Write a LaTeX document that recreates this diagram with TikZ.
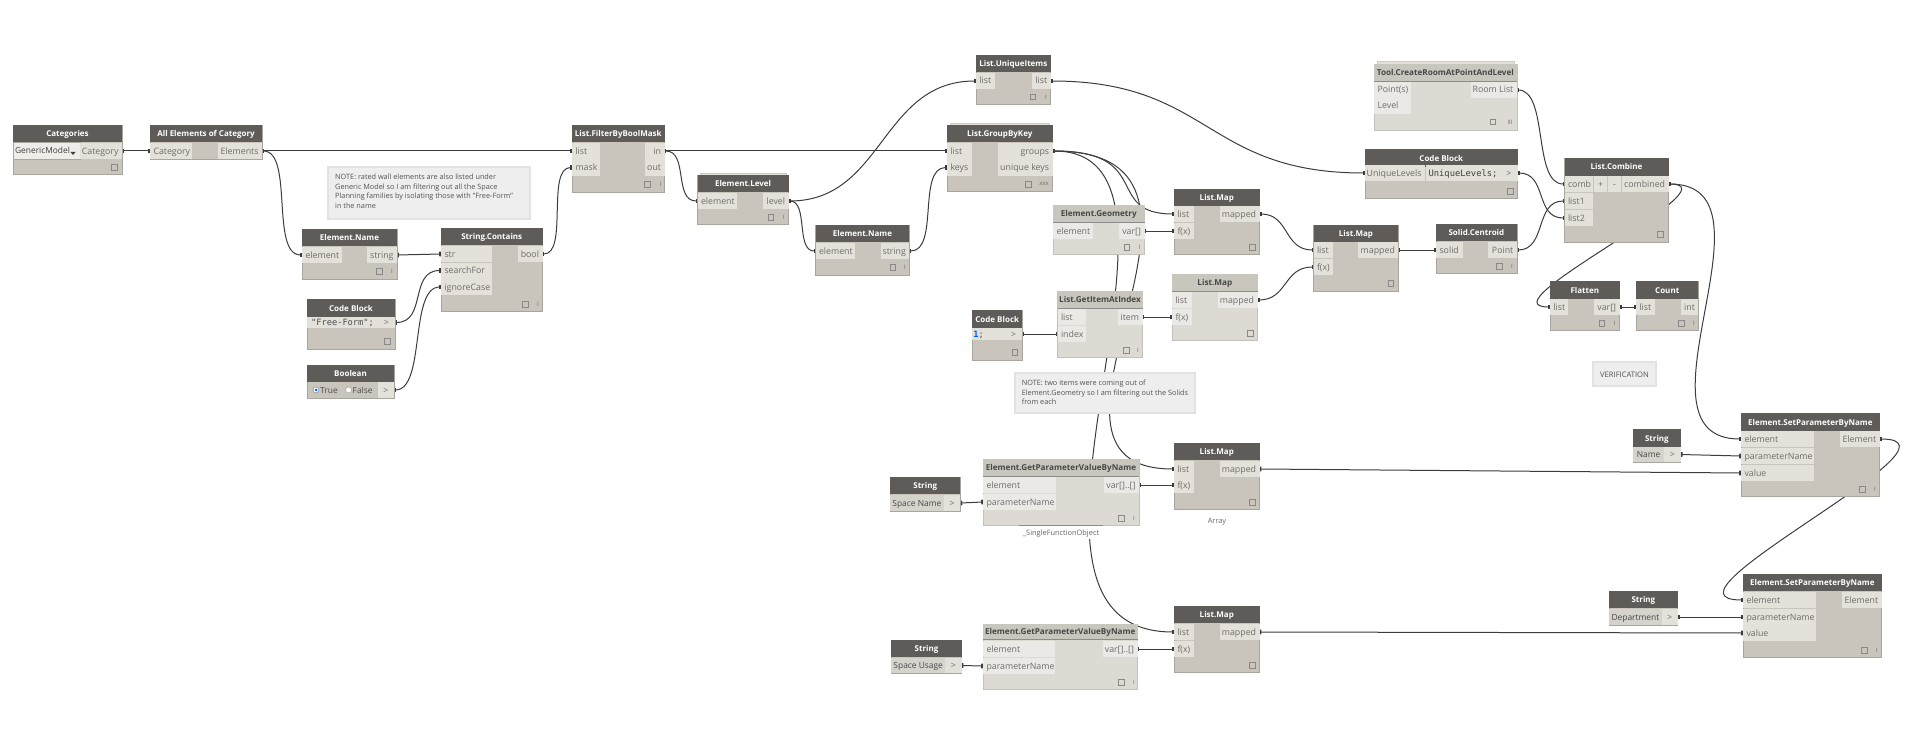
\documentclass[tikz,border=0pt]{standalone}
\usepackage{fontspec}
\setmainfont{Open Sans}
\newfontfamily\monof{DejaVu Sans Mono}
\usetikzlibrary{arrows.meta}
\definecolor{ttl}{HTML}{5E5B58}
\definecolor{bdy}{HTML}{C9C5BD}
\definecolor{bnd}{HTML}{E4E1DA}
\definecolor{fbdy}{HTML}{DCDAD3}
\definecolor{fttl}{HTML}{C9C6BE}
\definecolor{fbnd}{HTML}{EBE9E5}
\definecolor{edg}{HTML}{A9A69F}
\definecolor{lbl}{HTML}{6E6C69}
\definecolor{wc}{HTML}{3C3C3C}
\definecolor{notef}{HTML}{EEEEEE}
\definecolor{noteb}{HTML}{E2E2E2}
\pgfdeclarelayer{wires}
\pgfsetlayers{wires,main}
\tikzset{
  flat/.style={anchor=north west,inner sep=0pt,outer sep=0pt},
  live/.style={fill=bdy,draw=edg,line width=.6pt},
  froz/.style={fill=fbdy,draw=edg!70,line width=.6pt},
  livet/.style={fill=ttl,text=white,font=\fontsize{8}{10}\selectfont\bfseries},
  frozt/.style={fill=fttl,text=black!72,font=\fontsize{8.15}{10}\selectfont\bfseries},
  band/.style={fill=bnd,text=lbl,font=\fontsize{8.8}{10}\selectfont},
  fband/.style={fill=fbnd,text=lbl,font=\fontsize{8.8}{10}\selectfont},
  strband/.style={fill=bnd!94!black,text=black!72,font=\fontsize{8.4}{10}\selectfont},
  wire/.style={draw=wc,line width=1pt,{Rectangle[length=1.8pt,width=4.6pt]}-{Rectangle[length=1.8pt,width=4.6pt]}},
  notetxt/.style={anchor=north west,inner sep=0pt,align=left,text=black!68,font=\fontsize{7.3}{9.6}\selectfont},
  tiny/.style={draw=lbl!80,line width=.5pt,minimum size=5.5pt,inner sep=0pt},
  tick/.style={inner sep=0pt,text=lbl,font=\fontsize{6}{6}\selectfont}
}
\newcounter{nn}
% generic rectangle: name,x1,y1,x2,y2,style,text
\newcommand{\bx}[7]{%
  \pgfmathsetmacro\bw{#4-(#2)}\pgfmathsetmacro\bh{#5-(#3)}%
  \node[flat,minimum width=\bw pt,minimum height=\bh pt,#6] (#1) at (#2,#3) {\raisebox{-3pt}[4pt][4pt]{#7}};}
% block: name,x1,y1,x2,y2,titleBottom,title
\newcommand{\livenode}[7]{\bx{#1}{#2}{#3}{#4}{#5}{live}{}\bx{#1t}{#2}{#3}{#4}{#6}{livet}{#7}}
\newcommand{\frznode}[7]{\bx{#1}{#2}{#3}{#4}{#5}{froz}{}\bx{#1t}{#2}{#3}{#4}{#6}{frozt}{#7}%
  \draw[draw=black!45,line width=.6pt] (#1t.south west) -- (#1t.south east);}
% left port: name,x1,x2,y,text ; right port likewise
\newcommand{\ipt}[6][band]{\pgfmathsetmacro\pw{#4-(#3)-3.5}\bx{#2}{#3}{#5-8}{#4}{#5+8}{#1}{\hspace{3.5pt}\makebox[\pw pt][l]{#6}}}
\newcommand{\opt}[6][band]{\pgfmathsetmacro\pw{#4-(#3)-3.5}\bx{#2}{#3}{#5-8}{#4}{#5+8}{#1}{\makebox[\pw pt][r]{#6}\hspace{3.5pt}}}
\newcommand{\sq}[2]{\stepcounter{nn}\node[tiny] (sq\thenn) at (#1,#2) {};}
\newcommand{\lc}[3][I]{\stepcounter{nn}\node[tick] (lc\thenn) at (#2,#3) {#1};}
\newcommand{\wire}[4]{\draw[wire] (#1.east) .. controls +(#3,0) and +(-#4,0) .. (#2.west);}
\newcommand{\strw}[2]{\draw[wire] (#1.east) -- (#2.west);}
\begin{document}
\begin{tikzpicture}[x=1pt,y=-1pt]
\useasboundingbox (0,0) rectangle (1909,741);

% Categories
\livenode{cat}{13}{125}{122}{174}{142}{Categories}
\bx{catdd}{13}{142}{80}{159}{fill=bnd!60!white,draw=edg,line width=.5pt,text=black!75,font=\fontsize{8.4}{10}\selectfont}{\hspace{-8pt}GenericModel}
\fill[black!75] (70.5,152) -- (75.5,152) -- (73,155) -- cycle;
\opt{catO}{80}{122}{151}{Category}
\sq{114}{167}
% All Elements
\livenode{all}{150}{125}{262}{159}{142}{All Elements of Category}
\ipt{allI}{150}{192}{151}{Category}
\opt{allO}{218}{262}{151}{Elements}
% FilterByBoolMask
\livenode{fb}{572}{125}{664.5}{192}{142}{List.FilterByBoolMask}
\ipt{fbL}{572}{600}{151}{list}
\ipt{fbM}{572}{600}{167.5}{mask}
\opt{fbIn}{645}{664.5}{151}{in}
\opt{fbOut}{645}{664.5}{167.5}{out}
\sq{647}{184}\lc{660.4}{184}
% Note 1
\bx{note1}{328}{167}{530}{219}{fill=notef,draw=noteb,line width=1.5pt}{}
\node[notetxt] (note1t) at (335,174) {NOTE: rated wall elements are also listed under\\Generic Model so I am filtering out all the Space\\Planning families by isolating those with "Free-Form"\\in the name};
% Element.Name 1
\livenode{en1}{302}{229}{397}{279}{246}{Element.Name}
\ipt{en1I}{302}{342}{255}{element}
\opt{en1O}{367}{397}{255}{string}
\sq{379}{271}\lc{392}{271}
% String.Contains
\livenode{sc}{441}{228}{542.5}{311}{245}{String.Contains}
\ipt{scS}{441}{492}{254}{str}
\ipt{scF}{441}{492}{270.5}{searchFor}
\ipt{scC}{441}{492}{287}{ignoreCase}
\opt{scO}{518}{542.5}{254}{bool}
\sq{525}{304}\lc{538}{304}
% Code Block 1
\livenode{cb1}{307}{299}{395}{349}{317}{Code Block}
\bx{cb1c}{307}{317}{378}{328}{fill=bnd,text=black!70,font=\monof\fontsize{8.7}{10}\selectfont}{"Free-Form";}
\bx{cb1O}{378}{317}{395}{328}{band}{>}
\sq{387}{341}
% Boolean
\livenode{bo}{307}{365}{394}{398}{382}{Boolean}
\bx{boO}{378}{382}{394}{398}{band}{>}
\node[circle,draw=black!55,fill=white,minimum size=6pt,inner sep=0pt] (rt) at (316,390) {};
\node[circle,fill=blue!60!cyan,minimum size=3pt,inner sep=0pt] (rti) at (316,390) {};
\node[anchor=west,inner sep=0pt,text=black!70,font=\fontsize{8.4}{10}\selectfont] (rtt) at (320,390.5) {True};
\node[circle,draw=black!40,fill=white,minimum size=6pt,inner sep=0pt] (rf) at (348.6,390) {};
\node[anchor=west,inner sep=0pt,text=black!70,font=\fontsize{8.4}{10}\selectfont] (rft) at (352.5,390.5) {False};

% Element.Level
\bx{elS}{700}{173}{786}{176}{fill=bnd,draw=edg!60,line width=.4pt}{}
\livenode{el}{697.5}{175}{788.6}{224}{192}{Element.Level}
\ipt{elI}{697.5}{737}{201}{element}
\opt{elO}{763}{788.6}{201}{level}
\sq{770.6}{217}\lc{783.6}{217}
% Element.Name 2
\livenode{en2}{815.5}{225}{909.4}{275}{242}{Element.Name}
\ipt{en2I}{815.5}{855}{251}{element}
\opt{en2O}{881}{909.4}{251}{string}
\sq{892.6}{267}\lc{905}{267}
% List.UniqueItems
\livenode{ui}{976}{55}{1050.6}{104}{72}{List.UniqueItems}
\ipt{uiI}{976}{995}{81}{list}
\opt{uiO}{1032}{1050.6}{81}{list}
\sq{1032.6}{97}\lc{1046}{97}
% List.GroupByKey
\bx{gkS}{950}{123}{1049}{126}{fill=bnd,draw=edg!60,line width=.4pt}{}
\livenode{gk}{947}{125}{1052.6}{191}{142}{List.GroupByKey}
\ipt{gkL}{947}{972}{151}{list}
\ipt{gkK}{947}{972}{167.5}{keys}
\opt{gkG}{998}{1052.6}{151}{groups}
\opt{gkU}{998}{1052.6}{167.5}{unique keys}
\sq{1028}{184}\lc[xxx]{1044}{184}
% Element.Geometry
\frznode{eg}{1053}{205}{1144.5}{254}{222}{Element.Geometry}
\ipt[fband]{egI}{1053}{1093}{231}{element}
\opt[fband]{egO}{1119}{1144.5}{231}{var[]}
\sq{1126.5}{247}\lc{1139.6}{247}
% List.GetItemAtIndex
\frznode{gi}{1057.5}{291}{1142.5}{357}{308}{List.GetItemAtIndex}
\ipt[fband]{giL}{1057.5}{1086}{317}{list}
\ipt[fband]{giX}{1057.5}{1086}{334}{index}
\opt[fband]{giO}{1118}{1142.5}{317}{item}
\sq{1126}{350}\lc{1138}{350}
% Code Block 2
\livenode{cb2}{972}{310}{1022.4}{360}{328}{Code Block}
\bx{cb2c}{972}{328}{1005}{340}{fill=bnd,text=blue!65!cyan,font=\monof\fontsize{8.7}{10}\selectfont}{\hspace{-20pt}\textbf{1}\textcolor{black!70}{;}}
\bx{cb2O}{1005}{328}{1022.4}{340}{band}{>}
\sq{1014.7}{352}
% List.Map top
\livenode{m1}{1174}{189}{1259.6}{254}{206}{List.Map}
\ipt{m1L}{1174}{1194}{214}{list}
\ipt{m1F}{1174}{1194}{231}{f(x)}
\opt{m1O}{1219.6}{1259.6}{214}{mapped}
\sq{1252}{247}
% List.Map frozen
\frznode{m2}{1172}{274}{1257.6}{340}{291}{List.Map}
\ipt[fband]{m2L}{1172}{1192}{300}{list}
\ipt[fband]{m2F}{1172}{1192}{317}{f(x)}
\opt[fband]{m2O}{1217.6}{1257.6}{300}{mapped}
\sq{1250}{333}
% List.Map 3
\livenode{m3}{1313.5}{225}{1398.4}{291}{242}{List.Map}
\ipt{m3L}{1313.5}{1333}{250}{list}
\ipt{m3F}{1313.5}{1333}{267}{f(x)}
\opt{m3O}{1358}{1398.4}{250}{mapped}
\sq{1390.6}{283}
% Solid.Centroid
\livenode{sd}{1436}{224}{1516.8}{273}{241}{Solid.Centroid}
\ipt{sdI}{1436}{1463}{250}{solid}
\opt{sdO}{1488}{1516.8}{250}{Point}
\sq{1499}{266}\lc{1512}{266}
% Tool
\bx{tlS}{1377}{61}{1514}{65}{fill=bnd,draw=edg!60,line width=.4pt}{}
\frznode{tl}{1374}{64}{1516.8}{130}{81}{Tool.CreateRoomAtPointAndLevel}
\ipt[fband]{tlP}{1374}{1411}{90}{Point(s)}
\ipt[fband]{tlV}{1374}{1411}{106}{Level}
\opt[fband]{tlO}{1471}{1516.8}{90}{Room List}
\sq{1492.7}{122}\lc[III]{1510}{122}
% Code Block 3
\livenode{cb3}{1365}{149}{1517.6}{198}{167}{Code Block}
\opt{cb3I}{1365}{1425}{173}{UniqueLevels}
\bx{cb3c}{1426}{165}{1500}{181}{fill=bnd,text=black!75,font=\monof\fontsize{8.8}{10}\selectfont}{UniqueLevels;}
\bx{cb3O}{1500}{165}{1517.6}{181}{band}{>}
\sq{1510}{191}
% List.Combine
\livenode{lc}{1564.5}{158}{1668.6}{242}{176}{List.Combine}
\ipt{lcC}{1564.5}{1593}{184}{comb}
\ipt{lc1}{1564.5}{1593}{201}{list1}
\ipt{lc2}{1564.5}{1593}{218}{list2}
\bx{lcP}{1594}{176}{1607.4}{192}{band}{+}
\bx{lcM}{1608}{176}{1621}{192}{band}{-}
\opt{lcO}{1622}{1668.6}{184}{combined}
\sq{1660.4}{234}
% Flatten
\livenode{fl}{1550}{281}{1619.6}{330}{299}{Flatten}
\ipt{flI}{1550}{1568}{307}{list}
\opt{flO}{1594}{1619.6}{307}{var[]}
\sq{1601.7}{323}\lc{1614.7}{323}
% Count
\livenode{ct}{1636}{281}{1698.4}{330}{299}{Count}
\ipt{ctI}{1636}{1655}{307}{list}
\opt{ctO}{1681}{1698.4}{307}{int}
\sq{1681}{323}\lc{1694}{323}
% Verification
\bx{ver}{1593}{362}{1656}{386}{fill=notef,draw=noteb,line width=1.5pt,text=black!68,font=\fontsize{7.6}{9}\selectfont}{VERIFICATION}
% Note 2
\bx{note2}{1015}{373}{1195}{413}{fill=notef,draw=noteb,line width=1.5pt}{}
\node[notetxt] (note2t) at (1021.6,380) {NOTE: two items were coming out of\\Element.Geometry so I am filtering out the Solids\\from each};
% GetParameter 1
\frznode{gp1}{983}{459}{1139}{525}{476}{Element.GetParameterValueByName}
\ipt[fband]{gp1E}{983}{1056}{485}{element}
\ipt[fband]{gp1N}{983}{1056}{502}{parameterName}
\opt[fband]{gp1O}{1104}{1139}{485}{var[]..[]}
\sq{1121}{518}\lc{1134}{518}
\bx{sfo}{1019}{525}{1103}{539}{fill=white,text=black!60,font=\fontsize{7.4}{9}\selectfont}{\_SingleFunctionObject}
\draw[draw=black!45,line width=.5pt] (sfo.north west) -- (sfo.north east);
% String Space Name
\livenode{s1}{890}{477}{960.4}{511}{494}{String}
\bx{s1v}{890}{495}{943.7}{511}{strband}{Space Name}
\bx{s1O}{943.7}{495}{960.4}{511}{band}{>}
% List.Map 4a
\livenode{m4}{1174}{443}{1259.6}{509}{460}{List.Map}
\ipt{m4L}{1174}{1194}{469}{list}
\ipt{m4F}{1174}{1194}{485}{f(x)}
\opt{m4O}{1219.6}{1259.6}{469}{mapped}
\sq{1252}{502}
\node[inner sep=0pt,text=black!60,font=\fontsize{7.4}{9}\selectfont] (arr) at (1217,521.5) {Array};
% List.Map 4b
\livenode{m5}{1174}{606}{1259.6}{672}{623}{List.Map}
\ipt{m5L}{1174}{1194}{632}{list}
\ipt{m5F}{1174}{1194}{649}{f(x)}
\opt{m5O}{1219.6}{1259.6}{632}{mapped}
\sq{1252}{665}
% GetParameter 2
\frznode{gp2}{983}{624}{1137.5}{689}{639}{Element.GetParameterValueByName}
\ipt[fband]{gp2E}{983}{1055}{649}{element}
\ipt[fband]{gp2N}{983}{1055}{666}{parameterName}
\opt[fband]{gp2O}{1103}{1137.5}{649}{var[]..[]}
\sq{1121}{682}\lc{1134}{682}
% String Space Usage
\livenode{s2}{891.4}{640}{961.6}{673}{657}{String}
\bx{s2v}{891.4}{658}{945}{673}{strband}{Space Usage}
\bx{s2O}{945}{658}{961.6}{673}{band}{>}
% SetParameter 1
\livenode{sp1}{1741}{413}{1879.7}{496}{431}{Element.SetParameterByName}
\ipt{sp1E}{1741}{1814}{439}{element}
\ipt{sp1N}{1741}{1814}{456}{parameterName}
\ipt{sp1V}{1741}{1814}{473}{value}
\opt{sp1O}{1840}{1879.7}{439}{Element}
\sq{1862}{489}\lc{1875}{489}
% String Name
\livenode{s3}{1633}{429}{1680.7}{462}{447}{String}
\bx{s3v}{1633}{447}{1664}{462}{strband}{Name}
\bx{s3O}{1664}{447}{1680.7}{462}{band}{>}
% SetParameter 2
\livenode{sp2}{1743}{574}{1881.7}{657}{591}{Element.SetParameterByName}
\ipt{sp2E}{1743}{1816}{600}{element}
\ipt{sp2N}{1743}{1816}{617}{parameterName}
\ipt{sp2V}{1743}{1816}{633}{value}
\opt{sp2O}{1842}{1881.7}{600}{Element}
\sq{1864}{650}\lc{1877}{650}
% String Department
\livenode{s4}{1609}{591}{1677.7}{625}{608}{String}
\bx{s4v}{1609}{609}{1661.7}{625}{strband}{Department}
\bx{s4O}{1661.7}{609}{1677.7}{625}{band}{>}

\begin{pgfonlayer}{wires}
\strw{catO}{allI}
\strw{allO}{fbL}
\wire{allO}{en1I}{32}{32}
\strw{en1O}{scS}
\wire{cb1O}{scF}{32}{32}
\wire{boO}{scC}{32}{32}
\wire{scO}{fbM}{26}{26}
\strw{fbIn}{gkL}
\wire{fbIn}{elI}{24}{24}
\wire{elO}{uiI}{95}{95}
\wire{elO}{en2I}{20}{20}
\wire{en2O}{gkK}{30}{30}
\wire{uiO}{cb3I}{160}{160}
\wire{gkG}{m1L}{102}{71}
\wire{gkG}{m4L}{217}{178}
\wire{gkG}{m5L}{177}{208}
\strw{egO}{m1F}
\strw{cb2O}{giX}
\strw{giO}{m2F}
\wire{m1O}{m3L}{30}{30}
\wire{m2O}{m3F}{30}{30}
\strw{m3O}{sdI}
\wire{sdO}{lc1}{30}{30}
\wire{tlO}{lcC}{32}{32}
\wire{cb3O}{lc2}{30}{30}
\wire{lcO}{sp1E}{118}{118}
\wire{lcO}{flI}{70}{70}
\strw{flO}{ctI}
\strw{s1O}{gp1N}
\strw{gp1O}{m4F}
\strw{s2O}{gp2N}
\strw{gp2O}{m5F}
\strw{m4O}{sp1V}
\strw{m5O}{sp2V}
\strw{s3O}{sp1N}
\strw{s4O}{sp2N}
\wire{sp1O}{sp2E}{100}{100}
\end{pgfonlayer}
\end{tikzpicture}
\end{document}
